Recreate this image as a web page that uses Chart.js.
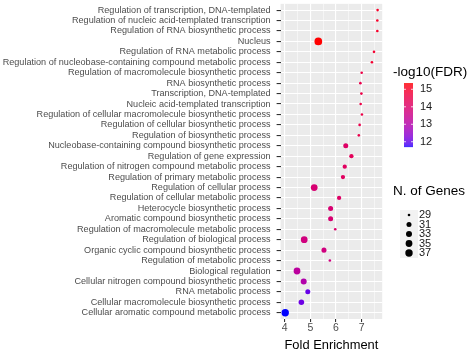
<!DOCTYPE html>
<html><head><meta charset="utf-8">
<script src="https://cdn.jsdelivr.net/npm/chart.js@4"></script>
<style>html,body{margin:0;padding:0;background:#fff;}#wrap{width:474px;height:352px;position:relative;}</style>
</head><body><div id="wrap"><canvas id="c"></canvas></div>
<script>
const categories = [
  "Regulation of transcription, DNA-templated",
  "Regulation of nucleic acid-templated transcription",
  "Regulation of RNA biosynthetic process",
  "Nucleus",
  "Regulation of RNA metabolic process",
  "Regulation of nucleobase-containing compound metabolic process",
  "Regulation of macromolecule biosynthetic process",
  "RNA biosynthetic process",
  "Transcription, DNA-templated",
  "Nucleic acid-templated transcription",
  "Regulation of cellular macromolecule biosynthetic process",
  "Regulation of cellular biosynthetic process",
  "Regulation of biosynthetic process",
  "Nucleobase-containing compound biosynthetic process",
  "Regulation of gene expression",
  "Regulation of nitrogen compound metabolic process",
  "Regulation of primary metabolic process",
  "Regulation of cellular process",
  "Regulation of cellular metabolic process",
  "Heterocycle biosynthetic process",
  "Aromatic compound biosynthetic process",
  "Regulation of macromolecule metabolic process",
  "Regulation of biological process",
  "Organic cyclic compound biosynthetic process",
  "Regulation of metabolic process",
  "Biological regulation",
  "Cellular nitrogen compound biosynthetic process",
  "RNA metabolic process",
  "Cellular macromolecule biosynthetic process",
  "Cellular aromatic compound metabolic process"
];
const foldEnrichment = [7.62,7.61,7.61,5.31,7.48,7.40,7.00,6.95,6.99,6.96,7.01,6.92,6.89,6.38,6.60,6.34,6.27,5.15,6.12,5.79,5.79,5.97,4.76,5.53,5.76,4.48,4.74,4.90,4.65,4.02];
const negLog10FDR = [15.0,15.0,15.0,15.36,14.9,14.9,14.6,14.5,14.6,14.6,14.6,14.5,14.5,14.1,14.3,14.2,14.2,13.9,14.1,13.9,13.9,14.0,13.7,13.7,13.7,13.2,13.0,12.05,12.1,11.7];
const geneCounts = [29,29,29,38,29,29,29,29,29,29,29,29,29,31,30,30,30,35,30,31,31,29,35,31,29,35,33,31,32,37];
const xTickValues = [4,5,6,7];
const xMinorValues = [4.5,5.5,6.5,7.5];
const fdrLegendTicks = [12,13,14,15];
const geneLegendTicks = [29,31,33,35,37];

// ---- colour helpers (Lab interpolation, like ggplot's gradient) ----
function lin(c){c/=255;return c<=0.04045?c/12.92:Math.pow((c+0.055)/1.055,2.4);}
function unlin(c){const v=c<=0.0031308?12.92*c:1.055*Math.pow(c,1/2.4)-0.055;return Math.round(Math.max(0,Math.min(1,v))*255);}
function rgb2lab(rgb){const R=lin(rgb[0]),G=lin(rgb[1]),B=lin(rgb[2]);
  const X=(0.4124*R+0.3576*G+0.1805*B)/0.95047,Y=(0.2126*R+0.7152*G+0.0722*B),Z=(0.0193*R+0.1192*G+0.9505*B)/1.08883;
  const f=t=>t>0.008856?Math.cbrt(t):7.787*t+16/116;const fx=f(X),fy=f(Y),fz=f(Z);
  return [116*fy-16,500*(fx-fy),200*(fy-fz)];}
function lab2rgb(lab){const fy=(lab[0]+16)/116,fx=fy+lab[1]/500,fz=fy-lab[2]/200;
  const fi=t=>t>0.206893?t*t*t:(t-16/116)/7.787;
  const X=fi(fx)*0.95047,Y=fi(fy),Z=fi(fz)*1.08883;
  const R=3.2406*X-1.5372*Y-0.4986*Z,G=-0.9689*X+1.8758*Y+0.0415*Z,B=0.0557*X-0.2040*Y+1.0570*Z;
  return [unlin(R),unlin(G),unlin(B)];}
const labLow=rgb2lab([0,0,255]),labHigh=rgb2lab([255,0,0]);
const fdrMin=Math.min(...negLog10FDR),fdrMax=Math.max(...negLog10FDR);
function fdrColor(v){const t=Math.max(0,Math.min(1,(v-fdrMin)/(fdrMax-fdrMin)));
  const c=lab2rgb([0,1,2].map(k=>labLow[k]+(labHigh[k]-labLow[k])*t));return `rgb(${c[0]},${c[1]},${c[2]})`;}
const gMin=Math.min(...geneCounts),gMax=Math.max(...geneCounts);
function geneRadius(g){return 1.3+2.55*Math.sqrt(Math.max(0,(g-gMin)/(gMax-gMin)));}

const points=categories.map((c,i)=>({x:foldEnrichment[i],y:i}));
const FONT='"Liberation Sans", Arial, sans-serif';

const bgPlugin={id:'bg',beforeDraw(chart){const {ctx,chartArea:a}=chart;ctx.save();ctx.fillStyle='#EBEBEB';ctx.fillRect(a.left,a.top,a.right-a.left,a.bottom-a.top);ctx.restore();}};
const legendPlugin={id:'ggLegend',afterDraw(chart){
  const ctx=chart.ctx;ctx.save();
  ctx.fillStyle='#000';ctx.textBaseline='middle';ctx.textAlign='left';
  ctx.font='13.5px '+FONT;ctx.fillText('-log10(FDR)',393,72);
  const bx=404,bw=9,bt=83,bb=147;
  for(let y=bt;y<bb;y+=0.5){const v=fdrMax-(y-bt)/(bb-bt)*(fdrMax-fdrMin);ctx.fillStyle=fdrColor(v);ctx.fillRect(bx,y,bw,0.6);}
  ctx.font='11px '+FONT;
  fdrLegendTicks.forEach(v=>{const y=bb-(v-fdrMin)/(fdrMax-fdrMin)*(bb-bt);
    ctx.strokeStyle='#fff';ctx.lineWidth=0.8;ctx.beginPath();ctx.moveTo(bx,y);ctx.lineTo(bx+2,y);ctx.moveTo(bx+bw-2,y);ctx.lineTo(bx+bw,y);ctx.stroke();
    ctx.fillStyle='#1a1a1a';ctx.fillText(String(v),420,y);});
  ctx.fillStyle='#000';ctx.font='13.5px '+FONT;ctx.fillText('N. of Genes',393,191);
  ctx.fillStyle='#F2F2F2';ctx.fillRect(400,210,18,48);
  ctx.font='11px '+FONT;
  geneLegendTicks.forEach((g,i)=>{const y=215+i*9.5;ctx.fillStyle='#000';ctx.beginPath();ctx.arc(409,y,geneRadius(g),0,Math.PI*2);ctx.fill();
    ctx.fillStyle='#1a1a1a';ctx.fillText(String(g),419,y);});
  ctx.restore();}};

new Chart(document.getElementById('c'),{
  type:'scatter',
  data:{datasets:[{data:points,
    pointRadius:geneCounts.map(geneRadius),pointHoverRadius:geneCounts.map(geneRadius),
    pointBackgroundColor:negLog10FDR.map(fdrColor),pointBorderWidth:0,pointBorderColor:'rgba(0,0,0,0)'}]},
  options:{responsive:true,maintainAspectRatio:false,devicePixelRatio:1,animation:false,
    layout:{padding:{top:3.4,right:91.8,left:0,bottom:0}},
    plugins:{legend:{display:false},tooltip:{enabled:false}},
    scales:{
      x:{type:'linear',min:3.84,max:7.80,
        afterBuildTicks(s){s.ticks=[...xTickValues,...xMinorValues].sort((a,b)=>a-b).map(v=>({value:v}));},
        afterFit(s){s.height=33;s.paddingLeft=0;s.paddingRight=0;},
        border:{display:false},
        grid:{color:'#fff',lineWidth:c=>Number.isInteger(c.tick.value)?1.1:0.5,tickLength:3,
          tickColor:c=>Number.isInteger(c.tick.value)?'#333':'rgba(0,0,0,0)'},
        ticks:{autoSkip:false,maxRotation:0,padding:0,color:'#4D4D4D',font:{size:10.5,family:FONT},
          callback:v=>Number.isInteger(v)?String(v):''},
        title:{display:true,text:'Fold Enrichment',color:'#000',font:{size:12.9,family:FONT,lineHeight:1},padding:0}},
      y:{type:'linear',min:-0.6,max:29.6,reverse:true,
        afterBuildTicks(s){s.ticks=categories.map((c,i)=>({value:i}));},
        afterFit(s){s.width=280.6;s.paddingTop=0;s.paddingBottom=0;},
        border:{display:false},
        grid:{color:'#fff',lineWidth:1.1,tickLength:4,tickColor:'#333'},
        ticks:{autoSkip:false,padding:6,color:'#4D4D4D',font:{size:9.1,family:FONT},
          callback:v=>categories[v]}}
    }},
  plugins:[bgPlugin,legendPlugin]
});
</script></body></html>
